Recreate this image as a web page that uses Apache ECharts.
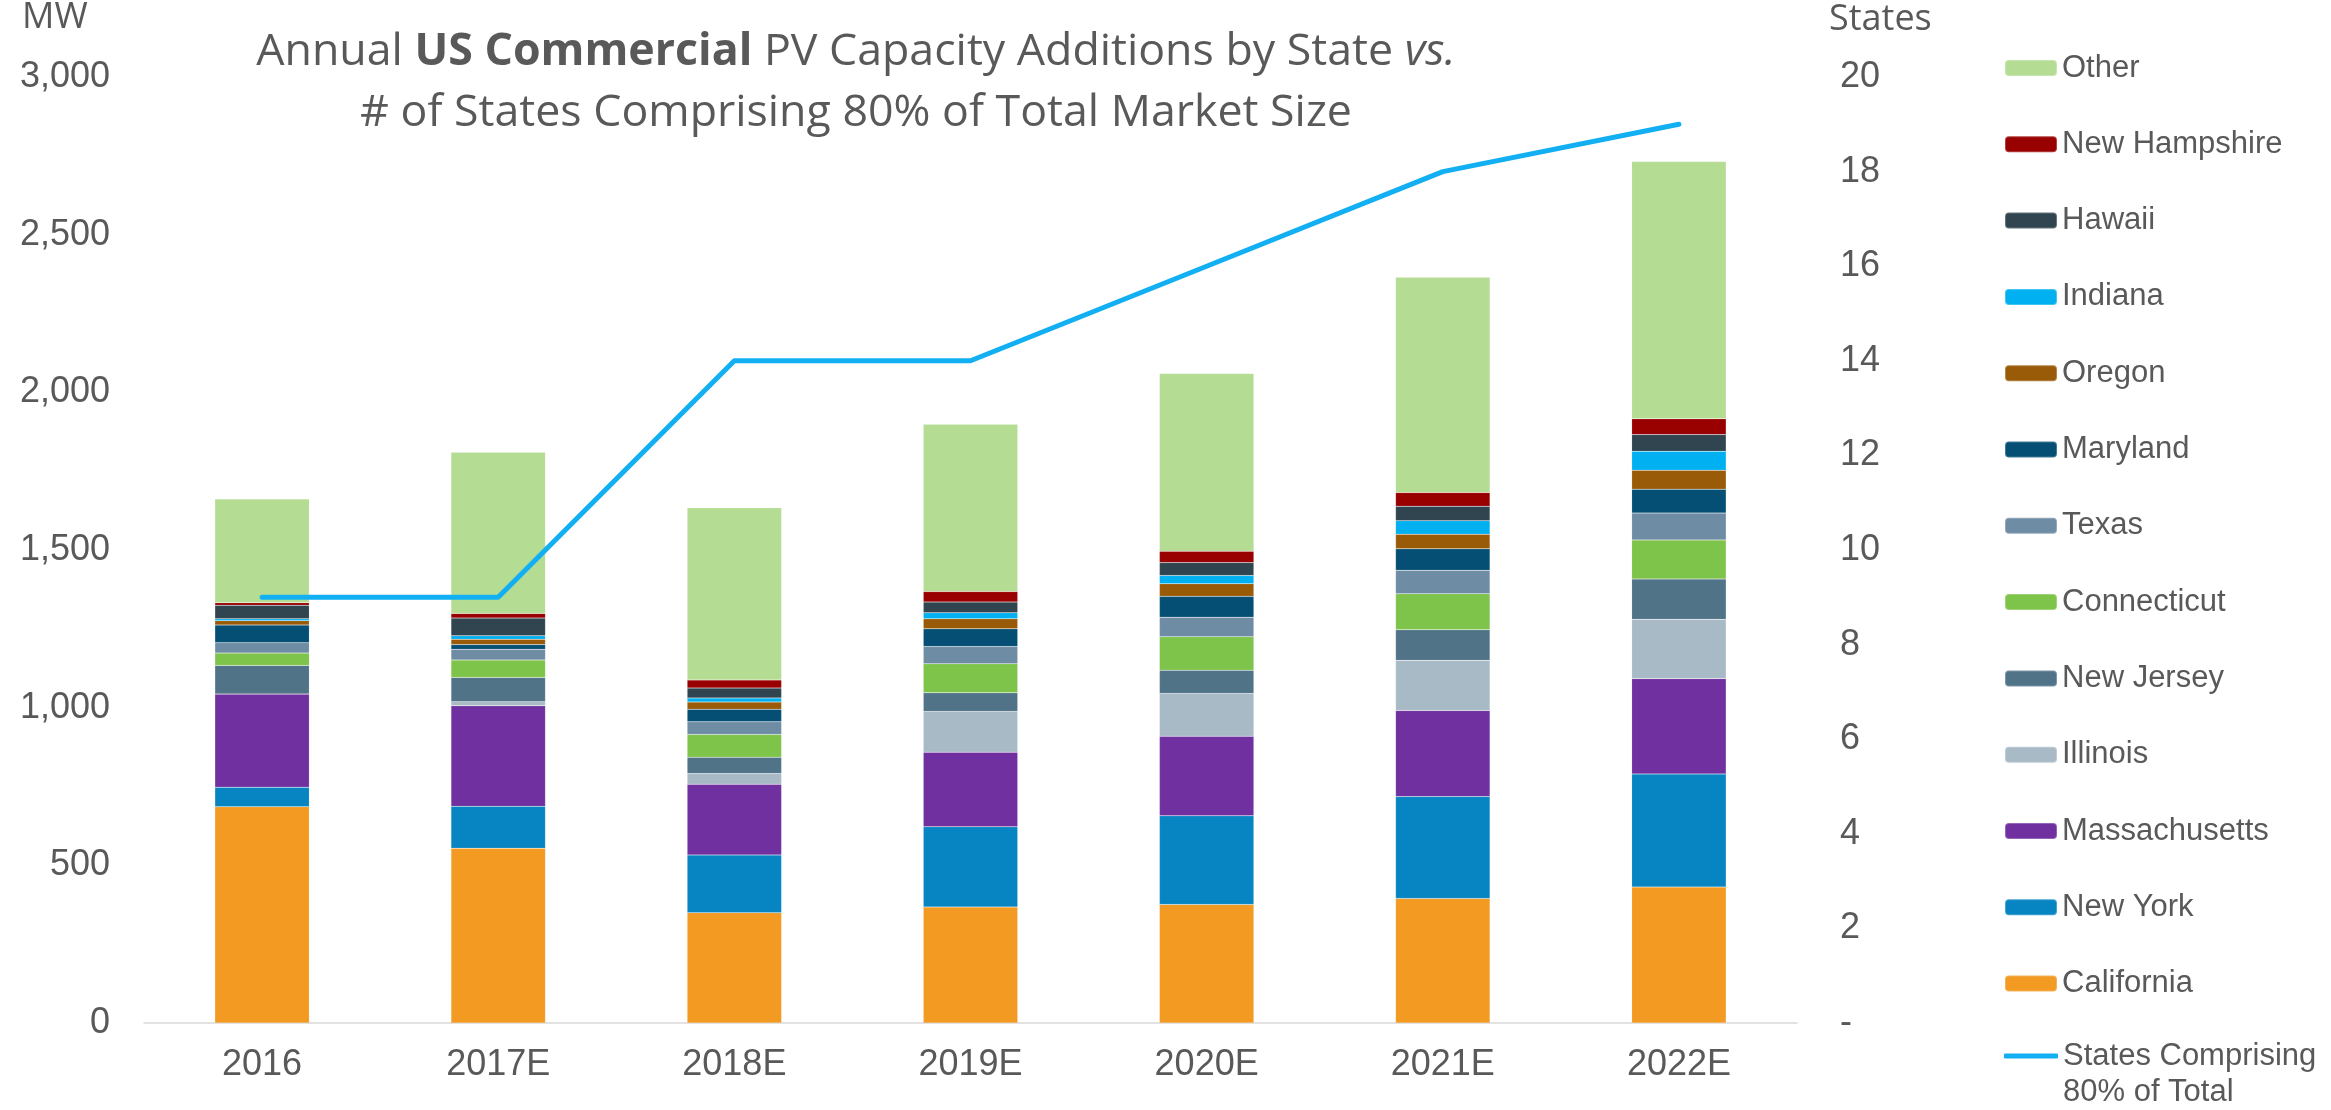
<!DOCTYPE html>
<html>
<head>
<meta charset="utf-8">
<script src="https://cdn.jsdelivr.net/npm/echarts@6/dist/echarts.min.js"></script>
<style>
    html, body { margin: 0; padding: 0; background: #fff; }
    #ech { width: 2331px; height: 1110px; }
</style>
</head>
<body>
<div id="ech"></div>
<script>
// 数据
const categories = ["2016", "2017E", "2018E", "2019E", "2020E", "2021E", "2022E"];
const california = [686, 554, 350, 368, 376, 395, 431];
const newYork = [62, 133, 183, 254, 281, 323, 359];
const massachusetts = [295, 319, 224, 237, 252, 273, 302];
const illinois = [0, 13, 34, 129, 136, 159, 188];
const newJersey = [91, 77, 52, 59, 74, 97, 128];
const connecticut = [39, 55, 72, 92, 106, 114, 124];
const texas = [33, 34, 40, 55, 62, 75, 85];
const maryland = [56, 15, 40, 56, 66, 68, 76];
const oregon = [14, 17, 23, 32, 40, 46, 60];
const indiana = [6, 11, 13, 19, 26, 43, 60];
const hawaii = [43, 56, 31, 34, 41, 46, 53];
const newHampshire = [8, 15, 26, 33, 36, 43, 50];
const other = [329, 511, 546, 531, 564, 683, 816];
const statesCount = [9, 9, 14, 14, 16, 18, 19];

const lineName = "States Comprising\n80% of Total";

const stacks = [
    {name: "California", data: california, color: "#F29A22"},
    {name: "New York", data: newYork, color: "#0685C2"},
    {name: "Massachusetts", data: massachusetts, color: "#7030A0"},
    {name: "Illinois", data: illinois, color: "#A9BAC7"},
    {name: "New Jersey", data: newJersey, color: "#507388"},
    {name: "Connecticut", data: connecticut, color: "#7EC34A"},
    {name: "Texas", data: texas, color: "#6F8CA5"},
    {name: "Maryland", data: maryland, color: "#044F73"},
    {name: "Oregon", data: oregon, color: "#9A5B08"},
    {name: "Indiana", data: indiana, color: "#00B0F0"},
    {name: "Hawaii", data: hawaii, color: "#314550"},
    {name: "New Hampshire", data: newHampshire, color: "#990000"},
    {name: "Other", data: other, color: "#B5DC93"}
];

const gray = "#595959";
const axisFont = "'Liberation Sans', Arial, sans-serif";
const titleFont = "'Open Sans', sans-serif";

const barSeries = stacks.map(s => ({
    name: s.name,
    type: "bar",
    stack: "total",
    barCategoryGap: "60%",
    data: s.data,
    color: s.color,
    itemStyle: {borderColor: "rgba(255,255,255,0.25)", borderWidth: 0.5}
}));

const titleStyle = {fontSize: 44.7, fontFamily: titleFont, color: gray, lineHeight: 61, fontWeight: "normal"};
const legendText = {fontSize: 31, lineHeight: 36, fontFamily: axisFont, color: gray};

const option = {
    backgroundColor: "#fff",
    animation: false,
    title: {
        left: 851,
        top: 17,
        textAlign: "center",
        text: "{n|Annual }{b|US Commercial}{n| PV Capacity Additions by State }{i|vs.}\n{n|# of States Comprising 80% of Total Market Size}",
        textStyle: {
            fontWeight: "normal",
            rich: {
                n: titleStyle,
                b: {...titleStyle, fontWeight: "bold"},
                i: {...titleStyle, fontStyle: "italic"}
            }
        }
    },
    grid: {left: 144, right: 534, top: 77, bottom: 87},
    legend: [
        {
            orient: "vertical",
            left: 2004,
            top: 50,
            padding: 0,
            itemWidth: 52,
            itemHeight: 16,
            itemGap: 40.3,
            selectedMode: false,
            data: stacks.map(s => s.name).reverse(),
            textStyle: legendText
        },
        {
            // 折线图例单独放，前面补一个空行让图标对齐第一行文字
            orient: "vertical",
            left: 2004,
            top: 1002,
            padding: 0,
            itemWidth: 54,
            itemHeight: 5,
            selectedMode: false,
            data: [{name: lineName, icon: "roundRect"}],
            formatter: name => " \n" + name,
            textStyle: legendText
        }
    ],
    xAxis: {
        type: "category",
        data: categories,
        axisLine: {lineStyle: {color: "#D9D9D9", width: 1.5}},
        axisTick: {show: false},
        axisLabel: {fontSize: 36, fontFamily: axisFont, color: gray, margin: 24}
    },
    yAxis: [
        {
            type: "value",
            min: 0,
            max: 3000,
            interval: 500,
            splitLine: {show: false},
            axisLine: {show: false},
            axisTick: {show: false},
            axisLabel: {
                fontSize: 36,
                fontFamily: axisFont,
                color: gray,
                margin: 34,
                formatter: v => v.toLocaleString("en-US")
            }
        },
        {
            type: "value",
            min: 0,
            max: 20,
            interval: 2,
            position: "right",
            splitLine: {show: false},
            axisLine: {show: false},
            axisTick: {show: false},
            axisLabel: {
                fontSize: 36,
                fontFamily: axisFont,
                color: gray,
                margin: 43,
                formatter: v => (v === 0 ? "-" : v)
            }
        }
    ],
    graphic: [
        {type: "text", left: 22, top: 0, style: {text: "MW", fontSize: 36, fontFamily: titleFont, fill: gray}},
        {type: "text", left: 1829, top: 2, style: {text: "States", fontSize: 36, fontFamily: titleFont, fill: gray}}
    ],
    series: barSeries.concat([
        {
            name: lineName,
            type: "line",
            yAxisIndex: 1,
            data: statesCount,
            color: "#12B0F2",
            symbol: "none",
            lineStyle: {width: 5, cap: "round", join: "round"}
        }
    ])
};

const ecIns = echarts.init(document.getElementById("ech"));
ecIns.setOption(option);
</script>
</body>
</html>
